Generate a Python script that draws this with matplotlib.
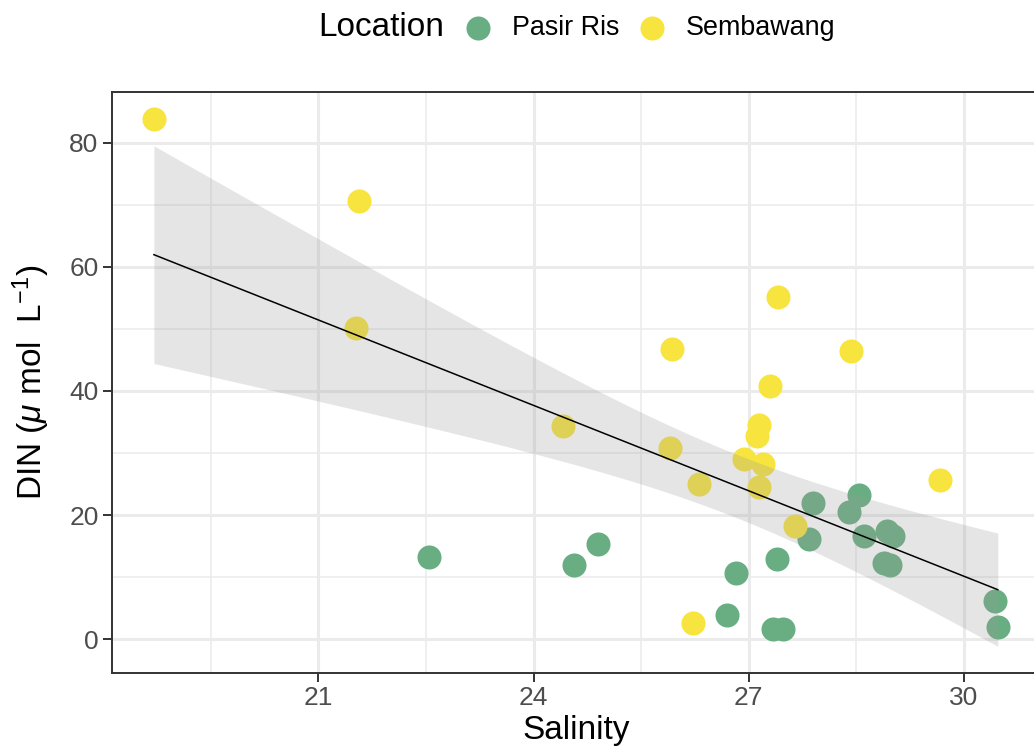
import matplotlib
matplotlib.use("Agg")
import matplotlib.pyplot as plt
import numpy as np

plt.rcParams['font.family'] = ['Liberation Sans', 'DejaVu Sans']
plt.rcParams['mathtext.fontset'] = 'custom'
plt.rcParams['mathtext.rm'] = 'Liberation Sans'
plt.rcParams['mathtext.it'] = 'Liberation Sans:italic'

# Data
semb_sal = [18.71, 21.57, 21.52, 24.41, 25.93, 25.90, 26.30, 26.22, 26.93, 27.11,
            27.14, 27.20, 27.14, 27.29, 27.41, 27.64, 28.43, 29.67]
semb_din = [83.9, 70.7, 50.2, 34.4, 46.8, 30.8, 25.0, 2.6, 29.1, 32.7,
            34.5, 28.2, 24.6, 40.8, 55.2, 18.2, 46.4, 25.6]
pasir_sal = [22.55, 24.57, 24.90, 26.69, 26.82, 27.34, 27.47, 27.40, 27.84, 27.89,
             28.39, 28.53, 28.60, 28.93, 29.01, 28.89, 28.97, 30.43, 30.47]
pasir_din = [13.2, 11.9, 15.4, 3.9, 10.6, 1.7, 1.7, 12.9, 16.1, 21.9,
             20.5, 23.3, 16.7, 17.4, 16.6, 12.2, 11.9, 6.2, 1.9]
locations = ['Pasir Ris', 'Sembawang']
colors = ['#69AE82', '#F7E43F']
x_ticks = [21, 24, 27, 30]
y_ticks = [0, 20, 40, 60, 80]

# linear fit with 95% confidence band (like geom_smooth(method = "lm"))
x_all = np.array(semb_sal + pasir_sal)
y_all = np.array(semb_din + pasir_din)
n = len(x_all)
slope, icpt = np.polyfit(x_all, y_all, 1)
resid = y_all - (slope * x_all + icpt)
s = np.sqrt(np.sum(resid ** 2) / (n - 2))
t_crit = 2.03  # t(0.975, df=35)
xs = np.linspace(x_all.min(), x_all.max(), 80)
fit = slope * xs + icpt
se = s * np.sqrt(1 / n + (xs - x_all.mean()) ** 2 / np.sum((x_all - x_all.mean()) ** 2))
lo, hi = fit - t_crit * se, fit + t_crit * se

fig = plt.figure(figsize=(10.34, 7.54), dpi=100)
ax = fig.add_axes([111.7 / 1034, (754 - 672.7) / 754, (1040 - 111.7) / 1034, (672.7 - 92.3) / 754])

ax.scatter(pasir_sal, pasir_din, s=300, color=colors[0], linewidths=0, zorder=3, label=locations[0])
ax.scatter(semb_sal, semb_din, s=300, color=colors[1], linewidths=0, zorder=3, label=locations[1])
ax.fill_between(xs, lo, hi, color='#999999', alpha=0.25, linewidth=0, zorder=4)
ax.plot(xs, fit, color='black', lw=1.1, zorder=5)

xr = x_all.max() - x_all.min()
ax.set_xlim(x_all.min() - 0.05 * xr, x_all.max() + 0.05 * xr)
ymin = min(y_all.min(), lo.min())
ymax = max(y_all.max(), hi.max())
yr = ymax - ymin
ax.set_ylim(ymin - 0.05 * yr, ymax + 0.05 * yr)

ax.set_xticks(x_ticks)
ax.set_yticks(y_ticks)
ax.set_xticks([19.5, 22.5, 25.5, 28.5], minor=True)
ax.set_yticks([10, 30, 50, 70], minor=True)
ax.grid(True, which='major', color='#EBEBEB', lw=2.2, zorder=0)
ax.grid(True, which='minor', color='#EBEBEB', lw=1.1, zorder=0)
ax.set_axisbelow(True)
ax.tick_params(which='major', length=6.5, width=1.4, color='#333333', labelcolor='#4D4D4D',
               labelsize=19, pad=3)
ax.tick_params(which='minor', length=0)
for sp in ax.spines.values():
    sp.set_color('#333333')
    sp.set_linewidth(1.4)

ax.set_xlabel('Salinity', fontsize=24, labelpad=4)
ax.set_ylabel(r'DIN ($\mu$ mol  L$^{-1}$)', fontsize=24, labelpad=12)

fig.text(318 / 1034, 1 - 28 / 754, 'Location', fontsize=24, va='center', ha='left')
fig.legend(loc='center left', bbox_to_anchor=(465 / 1034, 1 - 27.6 / 754), ncol=2,
           frameon=False, fontsize=19.4, handlelength=1.0, handletextpad=0.74,
           columnspacing=0.72, borderpad=0, borderaxespad=0, markerscale=1.0)

fig.savefig('out.png', dpi=100)
